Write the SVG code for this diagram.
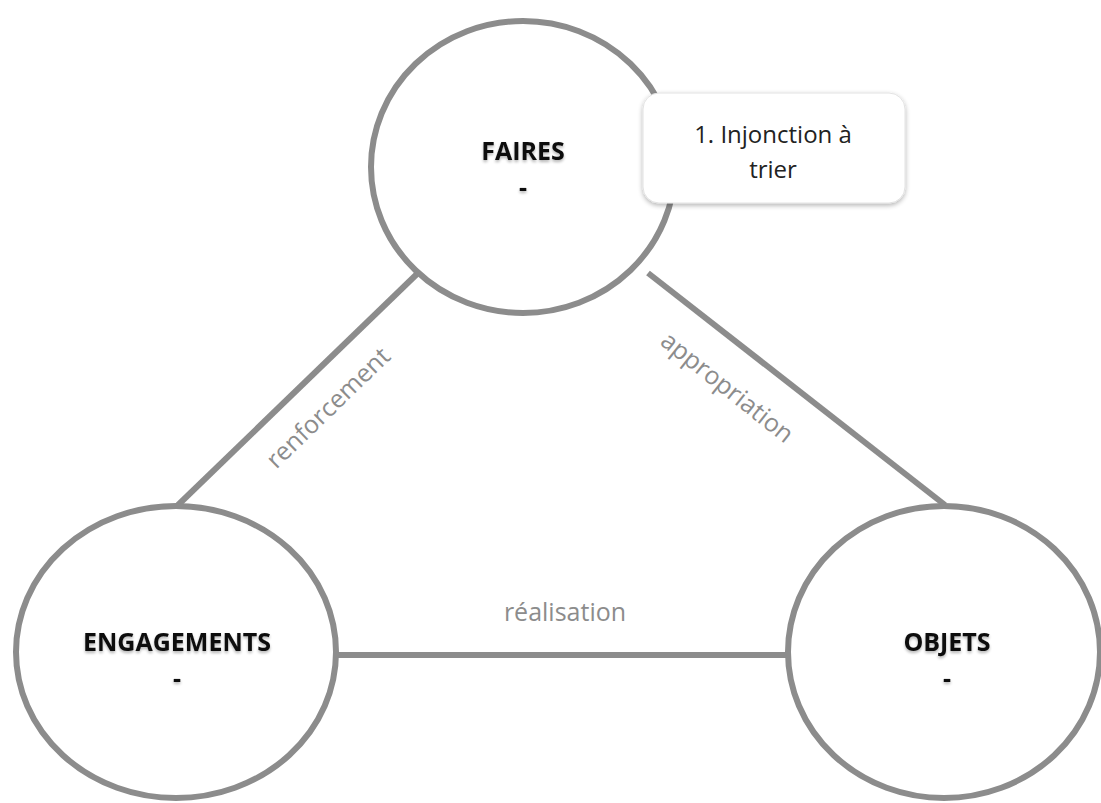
<svg xmlns="http://www.w3.org/2000/svg" width="1101" height="803" viewBox="0 0 1101 803">
<style>
.node{fill:#fff;stroke:#8c8c8c;stroke-width:6}
.edge{stroke:#8c8c8c;stroke-width:6;fill:none}
.title{font-family:"Open Sans","Liberation Sans",sans-serif;font-weight:bold;font-size:25px;fill:#111;text-anchor:middle}
.lbl{font-family:"Open Sans","Liberation Sans",sans-serif;font-size:25px;fill:#8c8c8c;text-anchor:middle}
.note{font-family:"Open Sans","Liberation Sans",sans-serif;font-size:24px;fill:#222;text-anchor:middle}
</style>
<defs>
<filter id="ts" x="-20%" y="-50%" width="140%" height="200%">
<feGaussianBlur in="SourceAlpha" stdDeviation="1.5"/>
<feOffset dx="0" dy="2" result="b"/>
<feComponentTransfer><feFuncA type="linear" slope="0.3"/></feComponentTransfer>
<feMerge><feMergeNode/><feMergeNode in="SourceGraphic"/></feMerge>
</filter>
<filter id="bs" x="-10%" y="-10%" width="120%" height="130%">
<feGaussianBlur in="SourceAlpha" stdDeviation="2.5"/>
<feOffset dx="0" dy="2"/>
<feComponentTransfer><feFuncA type="linear" slope="0.3"/></feComponentTransfer>
<feMerge><feMergeNode/><feMergeNode in="SourceGraphic"/></feMerge>
</filter>
</defs>
<rect width="1101" height="803" fill="#fff"/>
<g id="connectors">
<line class="edge" x1="418" y1="273" x2="178" y2="505"/>
<line class="edge" x1="648" y1="273" x2="945" y2="505"/>
<line class="edge" x1="337" y1="655" x2="788" y2="655"/>
<text class="lbl" transform="translate(334,414) rotate(-44)">renforcement</text>
<text class="lbl" transform="translate(722,394) rotate(38.5)">appropriation</text>
<text class="lbl" x="565" y="621">réalisation</text>
</g>
<g id="faires">
<ellipse class="node" cx="523" cy="167" rx="152" ry="146"/>
<text class="title" x="523" y="160" filter="url(#ts)">FAIRES</text>
<text class="title" x="523" y="196" filter="url(#ts)">-</text>
</g>
<g id="engagements">
<ellipse class="node" cx="176" cy="652" rx="160" ry="146"/>
<text class="title" x="177" y="651" filter="url(#ts)">ENGAGEMENTS</text>
<text class="title" x="177" y="687" filter="url(#ts)">-</text>
</g>
<g id="objets">
<ellipse class="node" cx="944" cy="652" rx="156" ry="146"/>
<text class="title" x="947" y="651" filter="url(#ts)">OBJETS</text>
<text class="title" x="947" y="687" filter="url(#ts)">-</text>
</g>
<g id="note">
<rect x="643" y="93" width="262" height="110" rx="16" fill="#fff" stroke="#e2e2e2" stroke-width="1" filter="url(#bs)"/>
<text class="note" x="773" y="143">1. Injonction à</text>
<text class="note" x="773" y="178">trier</text>
</g>
</svg>
